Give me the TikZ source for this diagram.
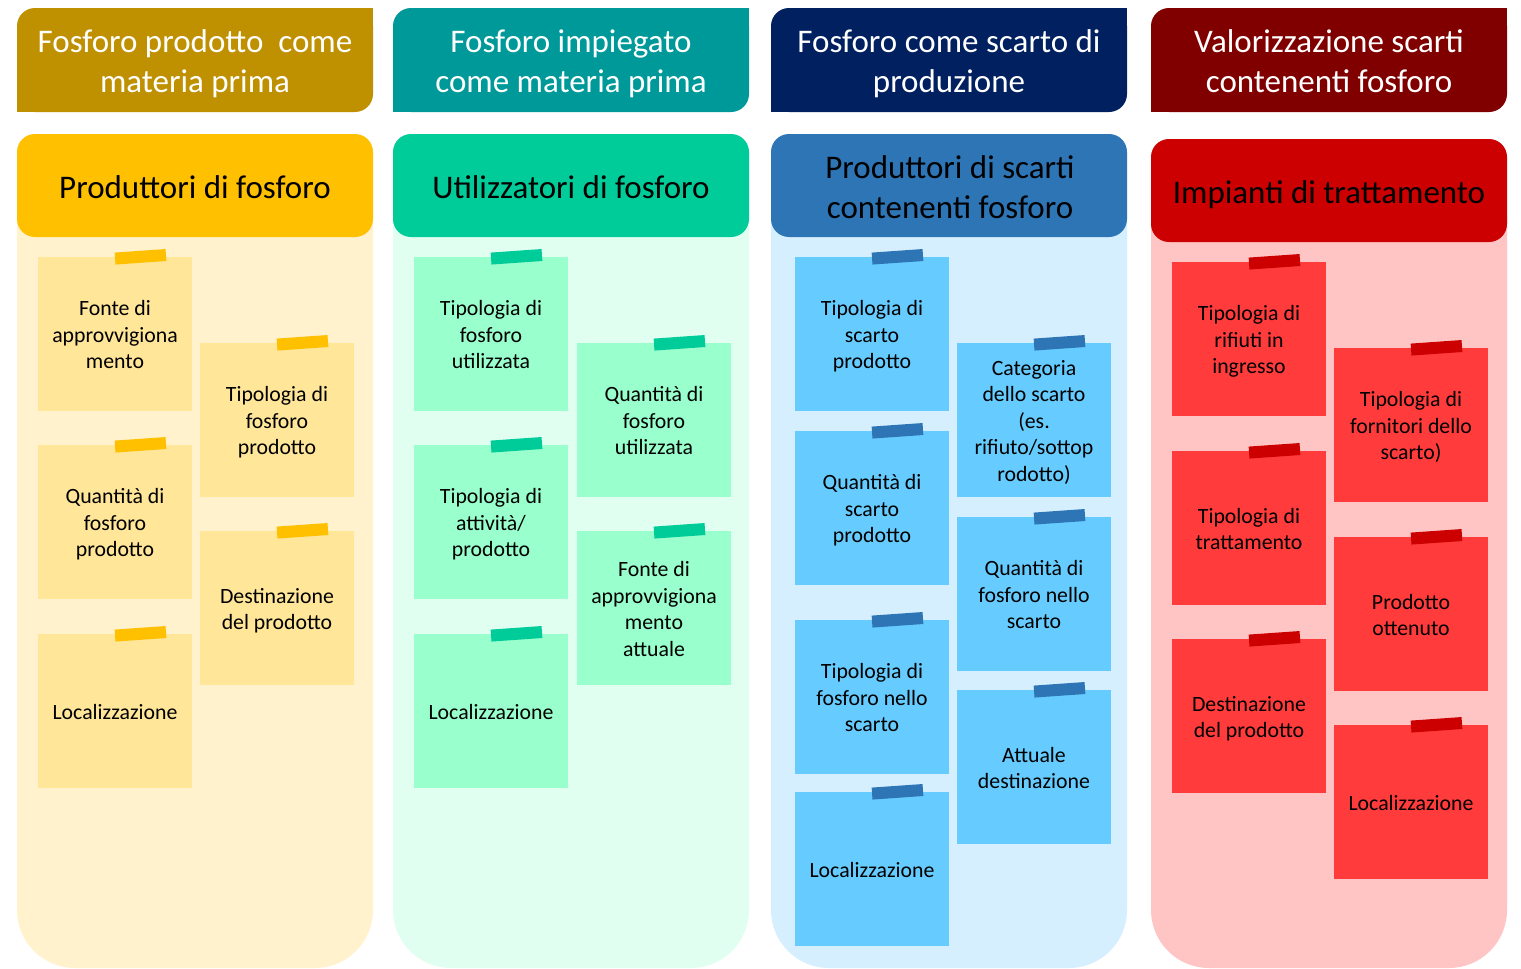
\documentclass[tikz,border=0pt]{standalone}
\usepackage{fontspec}
\setmainfont{Carlito}
\definecolor{aH}{HTML}{BF9000}\definecolor{aK}{HTML}{FFC000}\definecolor{aB}{HTML}{FFF2CC}\definecolor{aN}{HTML}{FFE699}\definecolor{aT}{HTML}{FFC000}
\definecolor{bH}{HTML}{009999}\definecolor{bK}{HTML}{00CC99}\definecolor{bB}{HTML}{E1FFF0}\definecolor{bN}{HTML}{99FFCC}\definecolor{bT}{HTML}{00CC99}
\definecolor{cH}{HTML}{002060}\definecolor{cK}{HTML}{2E75B6}\definecolor{cB}{HTML}{D5EFFF}\definecolor{cN}{HTML}{66CCFF}\definecolor{cT}{HTML}{2E75B6}
\definecolor{dH}{HTML}{800000}\definecolor{dK}{HTML}{CC0000}\definecolor{dB}{HTML}{FFC5C5}\definecolor{dN}{HTML}{FF3B3B}\definecolor{dT}{HTML}{CC0000}
\tikzset{
  toptext/.style={text=white, align=center, font=\fontsize{33}{40}\selectfont, inner sep=0pt},
  subtext/.style={text=black, align=center, font=\fontsize{33}{40}\selectfont, inner sep=0pt},
  note/.style={minimum width=154pt, minimum height=154pt, inner sep=0pt, align=center, text=black, font=\fontsize{21.8}{26.5}\selectfont},
  tape/.style={minimum width=51pt, minimum height=12pt, inner sep=0pt, rotate=4},
}
% #1 name, #2 x, #3 y, #4 colour prefix, #5 text
\newcommand\snote[5]{%
  \node[note, fill=#4N] (#1) at (#2,#3) {\rule{0pt}{24.5pt}#5\strut};
  \node[tape, fill=#4T] (#1t) at ([xshift=25.5pt]#1.north) {};}
% #1 prefix, #2 x left, #3 x right, #4 header2 top, #5 header2 bottom
\newcommand\colshapes[5]{%
  \fill[#1B, rounded corners=58pt] (#2,160) rectangle (#3,968);
  \fill[#1H, rounded corners=18pt] (#2,8) rectangle (#3,112);
  \fill[#1H] ({#3-30},8) rectangle (#3,40);
  \fill[#1H] (#2,80) rectangle ({#2+30},112);
  \fill[#1K, rounded corners=18pt] (#2,#4) rectangle (#3,#5);}
\begin{document}
\begin{tikzpicture}[x=1pt,y=-1pt]
\useasboundingbox (0,0) rectangle (1521,969);
\fill[white] (0,0) rectangle (1521,969);
\colshapes{a}{17}{373}{134}{237}
\colshapes{b}{393}{749}{134}{237}
\colshapes{c}{771}{1127}{134}{237}
\colshapes{d}{1151}{1507}{139}{242}
% top headers
\node[toptext] (ha) at (195,64) {\strut Fosforo prodotto~~come\\materia prima\strut};
\node[toptext] (hb) at (571,64) {\strut Fosforo impiegato\\come materia prima\strut};
\node[toptext] (hc) at (949,64) {\strut Fosforo come scarto di\\produzione\strut};
\node[toptext] (hd) at (1329,64) {\strut Valorizzazione scarti\\contenenti fosforo\strut};
% sub headers
\node[subtext] (sa) at (195,190) {\strut Produttori di fosforo\strut};
\node[subtext] (sb) at (571,190) {\strut Utilizzatori di fosforo\strut};
\node[subtext] (sc) at (950,190) {\strut Produttori di scarti\\contenenti fosforo\strut};
\node[subtext] (sd) at (1329,195) {\strut Impianti di trattamento\strut};
% column 1
\snote{a1}{115}{334}{a}{Fonte di\\approvvigiona\\mento}
\snote{a2}{115}{522}{a}{Quantità di\\fosforo\\prodotto}
\snote{a3}{115}{711}{a}{Localizzazione}
\snote{a4}{277}{420}{a}{Tipologia di\\fosforo\\prodotto}
\snote{a5}{277}{608}{a}{Destinazione\\del prodotto}
% column 2
\snote{b1}{491}{334}{b}{Tipologia di\\fosforo\\utilizzata}
\snote{b2}{491}{522}{b}{Tipologia di\\attività/\\prodotto}
\snote{b3}{491}{711}{b}{Localizzazione}
\snote{b4}{654}{420}{b}{Quantità di\\fosforo\\utilizzata}
\snote{b5}{654}{608}{b}{Fonte di\\approvvigiona\\mento\\attuale}
% column 3
\snote{c1}{872}{334}{c}{Tipologia di\\scarto\\prodotto}
\snote{c2}{872}{508}{c}{Quantità di\\scarto\\prodotto}
\snote{c3}{872}{697}{c}{Tipologia di\\fosforo nello\\scarto}
\snote{c4}{872}{869}{c}{Localizzazione}
\snote{c5}{1034}{420}{c}{Categoria\\dello scarto\\(es.\\rifiuto/sottop\\rodotto)}
\snote{c6}{1034}{594}{c}{Quantità di\\fosforo nello\\scarto}
\snote{c7}{1034}{767}{c}{Attuale\\destinazione}
% column 4
\snote{d1}{1249}{339}{d}{Tipologia di\\rifiuti in\\ingresso}
\snote{d2}{1249}{528}{d}{Tipologia di\\trattamento}
\snote{d3}{1249}{716}{d}{Destinazione\\del prodotto}
\snote{d4}{1411}{425}{d}{Tipologia di\\fornitori dello\\scarto)}
\snote{d5}{1411}{614}{d}{Prodotto\\ottenuto}
\snote{d6}{1411}{802}{d}{Localizzazione}
\end{tikzpicture}
\end{document}
